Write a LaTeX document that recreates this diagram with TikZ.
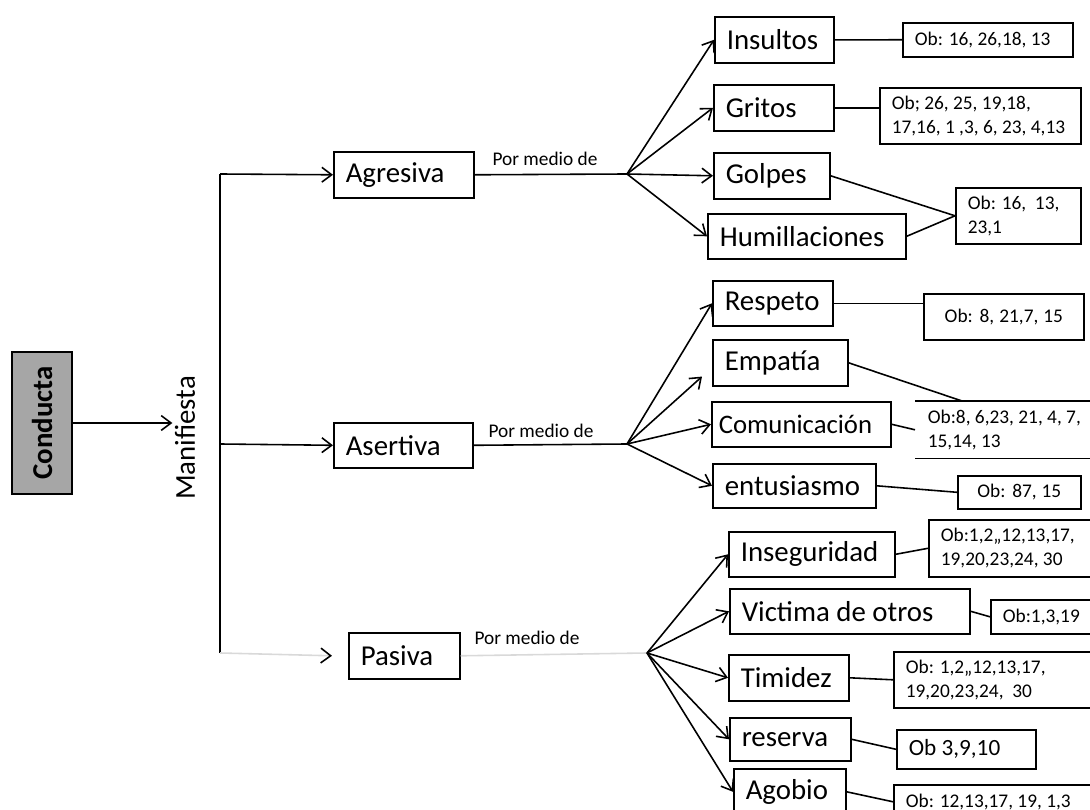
\documentclass[tikz,border=0pt]{standalone}
\usepackage{fontspec}
\setmainfont{Carlito}
\usetikzlibrary{arrows.meta}
\newcommand{\letragrande}{\fontsize{8.2}{9.8}\selectfont}
\newcommand{\letrachica}{\fontsize{5.5}{6.8}\selectfont}
\tikzset{
    caja/.style 2 args={draw, anchor=north west, align=left, inner xsep=0.12cm,
        inner ysep=0pt, text width=#1, minimum height=#2, font=\letragrande,
        execute at begin node={\spaceskip=0pt\xspaceskip=0pt\relax}},
    obs/.style 2 args={caja={#1}{#2}, font=\letrachica},
    flecha/.style={-{Straight Barb[length=2.8pt,width=4.2pt]}},
    tenue/.style={draw=gray!30}
}
\begin{document}
\begin{tikzpicture}[x=0.01cm, y=-0.01cm, line width=0.45pt]
      \useasboundingbox (0,0) rectangle (1090,810);
      \clip (0,0) rectangle (1090,810);
      \node[draw, fill=gray!70, rotate=90, minimum width=1.42cm, minimum height=0.60cm,
            font=\letragrande\bfseries] (cond) at (42,423) {Conducta};
      \node[rotate=90, inner sep=0.5pt, font=\letragrande] (man) at (185,438) {Manifiesta};
      \draw[flecha] (cond.south) -- (cond.south -| man.north);
      \coordinate (v1) at (220,174);
      \coordinate (v2) at (220,444);
      \coordinate (v3) at (220,653);
      \coordinate (fa) at (627,174);
      \coordinate (fb) at (627,444);
      \coordinate (fc) at (647,653);
      \node[caja={1.16cm}{0.46cm}] (agr) at (333,151) {Agresiva};
      \node[caja={1.15cm}{0.45cm}] (ase) at (333,422) {Asertiva};
      \node[caja={0.87cm}{0.46cm}] (pas) at (348,632) {Pasiva};
      \draw (v1) -- (v3);
      \draw[flecha] (v1) -- (agr.west);
      \draw[flecha] (v2) -- (ase.west);
      \draw[tenue, -{Straight Barb[length=2.8pt,width=4.2pt,color=black]}] (v3) -- ([xshift=-0.16cm]pas.west);
      \draw (agr.east) -- (fa);
      \draw (ase.east) -- (fb);
      \draw[tenue] (pas.east) -- (fc);
      \node[font=\letrachica] (pma) at (545,159) {Por medio de};
      \node[font=\letrachica] (pmb) at (541,431) {Por medio de};
      \node[font=\letrachica] (pmc) at (527,638) {Por medio de};
      % agresiva
      \node[caja={0.95cm}{0.46cm}] (ins) at (714,16) {Insultos};
      \node[caja={0.96cm}{0.46cm}] (gri) at (713,84) {Gritos};
      \node[caja={0.92cm}{0.46cm}] (gol) at (713,152) {Golpes};
      \node[caja={1.74cm}{0.45cm}] (hum) at (707,213) {Humillaciones};
      \node[obs={1.46cm}{0.34cm}] (obins) at (902,22) {Ob: 16, 26,18, 13};
      \node[obs={1.77cm}{0.56cm}] (obgri) at (879,87) {Ob; 26, 25, 19,18,\\17,16, 1 ,3, 6, 23, 4,13};
      \node[obs={1.01cm}{0.56cm}] (obgol) at (955,187) {Ob: 16,~ 13,\\23,1};
      \foreach \n in {ins,gri,gol,hum} \draw[flecha] (fa) -- (\n.west);
      \draw (ins.east) -- (obins.west);
      \draw (gri.east) -- (gri.east -| obgri.west);
      \draw (gol.east) -- (obgol.west);
      \draw (hum.east) -- (obgol.west);
      % asertiva
      \node[caja={0.96cm}{0.45cm}] (res) at (712,280) {Respeto};
      \node[caja={1.11cm}{0.46cm}] (emp) at (712,339) {Empatía};
      \node[caja={1.65cm}{0.45cm}, inner xsep=0.07cm, font=\fontsize{7.6}{9}\selectfont] (com) at (711,401) {Comunicación};
      \node[caja={1.39cm}{0.44cm}] (ent) at (712,463) {entusiasmo};
      \node[obs={1.36cm}{0.46cm}, align=center] (obres) at (923,293) {Ob: 8, 21,7, 15};
      \node[obs={1.61cm}{0.56cm}, draw=none] (obcom) at (915,401) {Ob:8, 6,23, 21, 4, 7,\\15,14, 13};
      \node[obs={0.99cm}{0.33cm}, align=center] (obent) at (957,475) {Ob: 87, 15};
      \draw (obcom.north west) -- (obcom.north east);
      \draw (obcom.south west) -- (obcom.south east);
      \draw[flecha] (fb) -- (res.west);
      \draw[flecha] (fb) -- ([xshift=-0.1cm,yshift=0.1cm]emp.south west);
      \draw[flecha] (fb) -- (com.west);
      \draw[flecha] (fb) -- (ent.west);
      \draw (res.east) -- (res.east -| obres.west);
      \draw (emp.east) -- ([xshift=0.47cm]obcom.north west);
      \draw (com.east) -- (obcom.west);
      \draw (ent.east) -- (obent.west);
      % pasiva
      \node[caja={1.42cm}{0.45cm}] (inse) at (728,531) {Inseguridad};
      \node[caja={2.16cm}{0.45cm}] (vic) at (729,588) {Victima de otros};
      \node[caja={0.96cm}{0.46cm}] (tim) at (728,654) {Timidez};
      \node[caja={0.97cm}{0.43cm}] (rsv) at (729,717) {reserva};
      \node[caja={0.88cm}{0.46cm}] (ago) at (733,768) {Agobio};
      \node[obs={1.46cm}{0.57cm}] (obinse) at (928,519) {Ob:1,2,,12,13,17,\\19,20,23,24, 30};
      \node[obs={0.86cm}{0.34cm}] (obvic) at (990,599) {Ob:1,3,19};
      \node[obs={1.76cm}{0.56cm}] (obtim) at (893,651) {Ob: 1,2,,12,13,17,\\19,20,23,24,~ 30};
      \node[obs={1.15cm}{0.39cm}, font=\fontsize{6.6}{8}\selectfont] (obrsv) at (896,729) {Ob 3,9,10};
      \node[obs={1.76cm}{0.34cm}] (obago) at (893,784) {Ob: 12,13,17, 19, 1,3};
      \foreach \n in {inse,vic,tim,rsv,ago} \draw[flecha] (fc) -- (\n.west);
      \draw (inse.east) -- (obinse.west);
      \draw (vic.east) -- (obvic.west);
      \draw (tim.east) -- (obtim.west);
      \draw (rsv.east) -- (obrsv.west);
      \draw (ago.east) -- (obago.west);
\end{tikzpicture}
\end{document}
